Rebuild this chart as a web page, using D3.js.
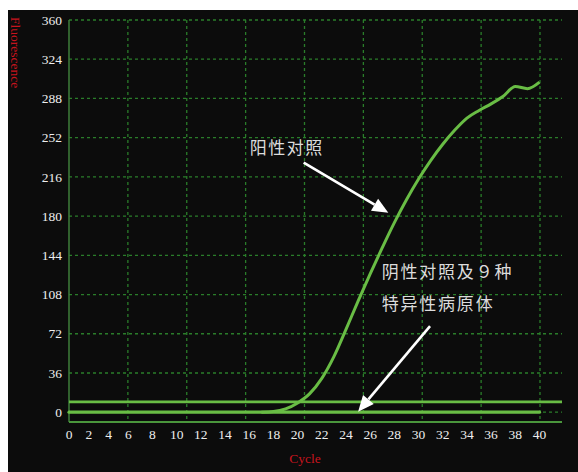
<!DOCTYPE html>
<html>
<head>
<meta charset="utf-8">
<script src="https://cdn.jsdelivr.net/npm/d3@7"></script>
<style>
  html, body { margin: 0; padding: 0; background: #ffffff; }
  svg { display: block; }
</style>
</head>
<body>
<div id="chart"></div>
<script>
// ---------------- data ----------------
const xTickValues = [0, 2, 4, 6, 8, 10, 12, 14, 16, 18, 20, 22, 24, 26, 28, 30, 32, 34, 36, 38, 40];
const yTickValues = [0, 36, 72, 108, 144, 180, 216, 252, 288, 324, 360];

// positive control amplification curve
const posCycles = [17, 18, 19, 20, 21, 22, 23, 24, 25, 26, 27, 28, 29, 30, 31, 32, 33, 34, 35, 36, 37, 38, 39, 40];
const posValues = [0, 0.6, 3, 8.5, 17, 31, 51, 76, 102, 127, 151, 174, 195, 214, 231, 246, 259, 270, 277, 283, 290, 299, 297, 303];

// negative control and 9 specific pathogens (flat)
const negCycles = [0, 40];
const negValues = [0, 0];

// threshold line
const thresholdValue = 9.5;

const label1 = "阳性对照";
const label2 = ["阴性对照及９种", "特异性病原体"];
const xTitle = "Cycle";
const yTitle = "Fluorescence";

// ---------------- layout ----------------
const W = 578, H = 472;
const bg = { x: 8, y: 10 };
const plotLeft = 69, plotRight = 562, plotTop = 20, plotBottom = 422;

const svg = d3.select("#chart").append("svg")
  .attr("width", W).attr("height", H);

svg.append("rect").attr("x", bg.x).attr("y", bg.y)
  .attr("width", W - bg.x).attr("height", H - bg.y)
  .attr("fill", "#0c0c0c");

// x: tick labels of the original are compressed at the low end
const x = d3.scaleLinear().domain([0, 6, 40]).range([69, 128.3, 539.5]);
const y = d3.scaleLinear().domain([-9, 360]).range([plotBottom, plotTop]);
const gridX = d3.scaleLinear().domain([0, 8]).range([x(0), 540]);

const gridColor = "#2a7d2a";
const lineColor = "#69bd45";
const serif = "'Liberation Serif', 'DejaVu Serif', serif";
const cjk = "'Noto Sans CJK SC', sans-serif";

// horizontal grid
svg.append("g").selectAll("line").data(yTickValues).join("line")
  .attr("x1", plotLeft).attr("x2", plotRight)
  .attr("y1", d => y(d)).attr("y2", d => y(d))
  .attr("stroke", gridColor).attr("stroke-width", 1.3)
  .attr("stroke-dasharray", "3,3");

// vertical grid
svg.append("g").selectAll("line").data(d3.range(1, 9)).join("line")
  .attr("x1", d => gridX(d)).attr("x2", d => gridX(d))
  .attr("y1", plotTop).attr("y2", plotBottom)
  .attr("stroke", gridColor).attr("stroke-width", 1.3)
  .attr("stroke-dasharray", "3,3");

// axis lines
svg.append("line").attr("x1", plotLeft).attr("x2", plotLeft)
  .attr("y1", plotTop).attr("y2", plotBottom)
  .attr("stroke", "#3e7e3a").attr("stroke-width", 1.5);
svg.append("line").attr("x1", plotLeft).attr("x2", plotRight)
  .attr("y1", plotBottom).attr("y2", plotBottom)
  .attr("stroke", "#4a963c").attr("stroke-width", 1.8);

// y tick labels
svg.append("g").selectAll("text").data(yTickValues).join("text")
  .attr("x", 62).attr("y", d => y(d)).attr("dy", "0.35em")
  .attr("text-anchor", "end")
  .attr("font-family", serif).attr("font-size", 13.5)
  .attr("fill", "#eeeeee")
  .text(d => d);

// x tick labels
svg.append("g").selectAll("text").data(xTickValues).join("text")
  .attr("x", d => x(d)).attr("y", 438.5)
  .attr("text-anchor", "middle")
  .attr("font-family", serif).attr("font-size", 13.5)
  .attr("fill", "#eeeeee")
  .text(d => d);

// axis titles
svg.append("text")
  .attr("x", 305).attr("y", 463)
  .attr("text-anchor", "middle")
  .attr("font-family", serif).attr("font-size", 13.5)
  .attr("fill", "#c8141e")
  .text(xTitle);

svg.append("text")
  .attr("transform", "translate(11,17) rotate(90)")
  .attr("text-anchor", "start")
  .attr("font-family", serif).attr("font-size", 13.5)
  .attr("fill", "#c8141e")
  .text(yTitle);

// threshold line
svg.append("line")
  .attr("x1", x(0)).attr("x2", plotRight)
  .attr("y1", y(thresholdValue)).attr("y2", y(thresholdValue))
  .attr("stroke", lineColor).attr("stroke-width", 2.6);

// negative line
const line = d3.line().x(d => x(d[0])).y(d => y(d[1]));
svg.append("path")
  .datum(negCycles.map((c, i) => [c, negValues[i]]))
  .attr("d", line)
  .attr("fill", "none").attr("stroke", lineColor)
  .attr("stroke-width", 3.2).attr("stroke-linecap", "round");

// positive curve
svg.append("path")
  .datum(posCycles.map((c, i) => [c, posValues[i]]))
  .attr("d", d3.line().x(d => x(d[0])).y(d => y(d[1])).curve(d3.curveMonotoneX))
  .attr("fill", "none").attr("stroke", lineColor)
  .attr("stroke-width", 3).attr("stroke-linejoin", "round");

// annotations
function arrow(x1, y1, x2, y2) {
  const ang = Math.atan2(y2 - y1, x2 - x1);
  const hl = 16, hw = 7;
  const bx = x2 - hl * Math.cos(ang), by = y2 - hl * Math.sin(ang);
  svg.append("line")
    .attr("x1", x1).attr("y1", y1).attr("x2", bx).attr("y2", by)
    .attr("stroke", "#ffffff").attr("stroke-width", 2.6);
  const px = -Math.sin(ang) * hw, py = Math.cos(ang) * hw;
  svg.append("path")
    .attr("d", `M${x2},${y2}L${bx + px},${by + py}L${bx - px},${by - py}Z`)
    .attr("fill", "#ffffff");
}

svg.append("text")
  .attr("x", x(16.05)).attr("y", y(237))
  .attr("font-family", cjk).attr("font-size", 17)
  .attr("letter-spacing", 1.5)
  .attr("fill", "#dcdcdc")
  .text(label1);
arrow(x(20.5), y(229), x(27.5), y(183));

svg.append("g").selectAll("text").data(label2).join("text")
  .attr("x", x(26.95)).attr("y", (d, i) => y(i === 0 ? 123 : 94))
  .attr("font-family", cjk).attr("font-size", 17)
  .attr("letter-spacing", 1.8)
  .attr("fill", "#dcdcdc")
  .text(d => d);
arrow(x(30.95), y(79), x(25.0), y(0.5));
</script>
</body>
</html>
